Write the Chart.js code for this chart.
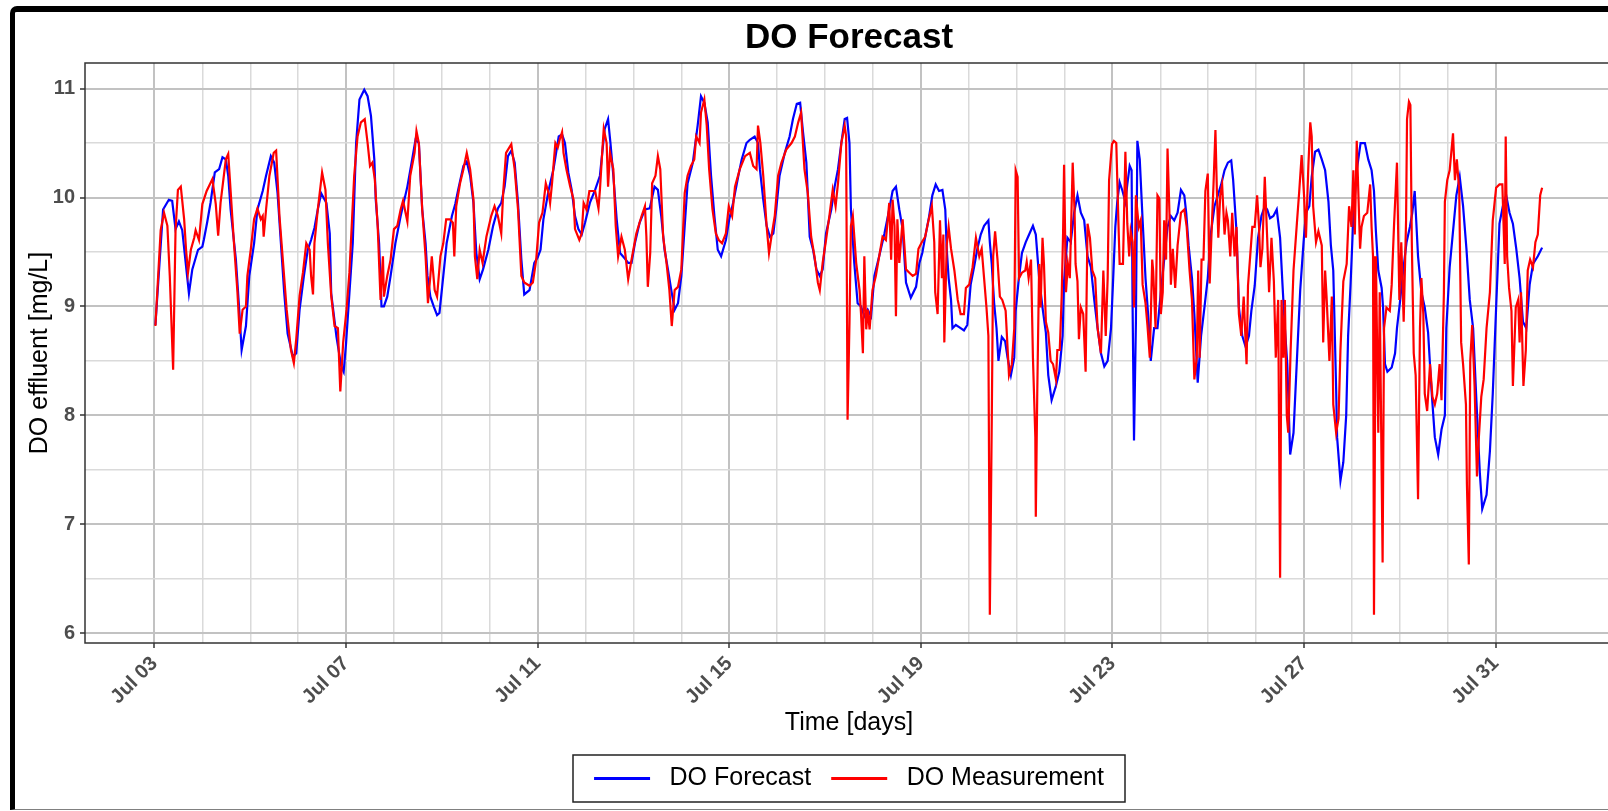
<!DOCTYPE html>
<html>
<head>
<meta charset="utf-8">
<script src="https://cdn.jsdelivr.net/npm/chart.js@4.4.1/dist/chart.umd.min.js"></script>
<style>
html, body { margin: 0; padding: 0; background: #fff; overflow: hidden; width: 1608px; height: 811px; }
#wrap { position: absolute; left: 0; top: 0; width: 1698px; height: 811px; }
#frame { position: absolute; left: 10px; top: 6px; width: 1700px; height: 797px; border-left: 5px solid #000; border-top: 6px solid #000; border-bottom: 1px solid #808080; border-top-left-radius: 7px; pointer-events: none; }
</style>
</head>
<body>
<div id="wrap"><canvas id="lineChart" width="1698" height="811"></canvas></div>
<div id="frame"></div>
<script>
// giorni dal 3 luglio (0 = Jul 03 00:00)
const forecastDay = [0.02,0.18,0.30,0.37,0.44,0.51,0.58,0.72,0.79,0.91,1.00,1.03,1.10,1.17,1.26,1.35,1.42,1.49,1.54,1.59,1.70,1.77,1.82,1.91,1.98,2.08,2.15,2.26,2.33,2.43,2.50,2.57,2.64,2.71,2.78,2.89,2.96,3.03,3.12,3.20,3.27,3.34,3.41,3.48,3.59,3.66,3.69,3.80,3.90,3.95,4.00,4.07,4.14,4.21,4.28,4.38,4.45,4.52,4.59,4.62,4.69,4.74,4.79,4.86,4.93,5.03,5.14,5.28,5.38,5.45,5.52,5.59,5.66,5.70,5.76,5.83,5.90,5.95,6.03,6.10,6.21,6.28,6.34,6.45,6.52,6.59,6.66,6.72,6.79,6.86,6.97,7.07,7.17,7.24,7.31,7.38,7.45,7.52,7.59,7.66,7.72,7.83,7.93,8.00,8.06,8.12,8.23,8.33,8.44,8.51,8.57,8.64,8.71,8.78,8.85,8.92,8.99,9.09,9.20,9.30,9.40,9.47,9.52,9.58,9.65,9.72,9.82,9.89,9.96,10.03,10.13,10.24,10.34,10.44,10.51,10.58,10.65,10.72,10.79,10.86,10.93,11.00,11.07,11.13,11.24,11.34,11.41,11.48,11.55,11.62,11.69,11.76,11.83,11.93,12.00,12.08,12.19,12.26,12.36,12.43,12.53,12.60,12.64,12.71,12.78,12.85,12.92,12.98,13.05,13.16,13.26,13.33,13.41,13.48,13.54,13.61,13.68,13.75,13.82,13.89,13.95,14.02,14.13,14.20,14.27,14.34,14.41,14.46,14.51,14.54,14.61,14.68,14.75,14.82,14.89,14.96,15.03,15.13,15.24,15.34,15.41,15.48,15.55,15.62,15.69,15.79,15.90,15.97,16.03,16.10,16.17,16.24,16.31,16.38,16.45,16.51,16.54,16.58,16.63,16.66,16.73,16.80,16.90,16.97,17.04,17.11,17.18,17.25,17.32,17.41,17.44,17.48,17.53,17.58,17.62,17.69,17.76,17.81,17.88,17.95,17.98,18.04,18.11,18.19,18.26,18.34,18.40,18.47,18.54,18.61,18.66,18.73,18.82,18.89,18.96,18.99,19.06,19.13,19.20,19.27,19.34,19.41,19.48,19.55,19.62,19.69,19.76,19.83,19.90,19.97,20.01,20.06,20.10,20.15,20.21,20.27,20.31,20.36,20.40,20.42,20.45,20.49,20.52,20.57,20.63,20.69,20.76,20.80,20.87,20.94,21.01,21.08,21.15,21.22,21.29,21.36,21.43,21.50,21.54,21.59,21.66,21.71,21.78,21.85,21.92,21.99,22.06,22.13,22.20,22.27,22.34,22.41,22.48,22.52,22.59,22.64,22.71,22.78,22.85,22.90,22.97,23.04,23.11,23.18,23.23,23.29,23.36,23.43,23.50,23.55,23.60,23.65,23.71,23.78,23.85,23.92,23.99,24.04,24.11,24.16,24.23,24.30,24.37,24.44,24.51,24.56,24.61,24.67,24.69,24.76,24.82,24.88,24.92,24.97,25.03,25.10,25.18,25.27,25.34,25.41,25.46,25.50,25.55,25.62,25.65,25.69,25.74,25.83,25.90,25.94,26.00,26.07,26.14,26.21,26.26,26.31,26.38,26.45,26.52,26.59,26.66,26.73,26.80,26.87,26.94,26.97,27.04,27.11,27.18,27.25,27.32,27.39,27.46,27.53,27.60,27.67,27.72,27.81,27.88,27.94,28.01,28.08,28.15,28.22,28.29,28.36,28.43,28.50,28.57,28.64,28.71,28.78,28.88,28.97];
const forecastDO = [8.83,9.89,9.98,9.97,9.71,9.78,9.70,9.12,9.34,9.52,9.55,9.61,9.77,9.95,10.23,10.26,10.37,10.35,10.20,9.89,9.43,8.97,8.60,8.82,9.28,9.58,9.89,10.06,10.20,10.38,10.32,10.04,9.58,9.12,8.75,8.54,8.57,8.97,9.28,9.52,9.61,9.72,9.89,10.04,9.95,9.67,9.12,8.72,8.45,8.40,8.66,9.12,9.58,10.50,10.90,10.99,10.93,10.75,10.35,9.98,9.58,9.00,9.00,9.09,9.28,9.58,9.83,10.10,10.35,10.53,10.50,9.89,9.58,9.28,9.09,9.00,8.92,8.94,9.28,9.58,9.83,9.94,10.07,10.29,10.33,10.20,9.95,9.49,9.25,9.34,9.52,9.74,9.90,9.95,10.10,10.38,10.43,10.32,9.95,9.43,9.11,9.15,9.40,9.45,9.52,9.80,10.07,10.26,10.56,10.58,10.50,10.23,10.07,9.83,9.71,9.66,9.77,9.95,10.07,10.20,10.63,10.72,10.50,10.20,9.80,9.49,9.44,9.40,9.40,9.58,9.77,9.89,9.90,10.10,10.07,9.83,9.52,9.34,9.15,8.97,9.03,9.28,9.74,10.13,10.32,10.66,10.93,10.87,10.69,10.20,9.83,9.52,9.46,9.61,9.80,9.95,10.20,10.35,10.50,10.53,10.56,10.50,10.26,9.98,9.74,9.64,9.67,9.89,10.20,10.41,10.56,10.72,10.86,10.87,10.60,10.32,9.64,9.52,9.34,9.28,9.34,9.67,9.89,10.10,10.26,10.50,10.72,10.73,10.50,9.89,9.40,9.03,9.00,8.91,8.97,8.91,9.28,9.46,9.67,9.89,10.06,10.10,9.89,9.71,9.22,9.08,9.18,9.40,9.49,9.66,9.82,10.02,10.12,10.06,10.07,9.89,9.53,9.26,9.06,8.80,8.83,8.81,8.78,8.83,9.20,9.36,9.53,9.66,9.74,9.79,9.59,9.39,9.03,8.80,8.50,8.72,8.68,8.53,8.37,8.53,8.96,9.23,9.49,9.59,9.66,9.74,9.66,9.26,8.99,8.76,8.37,8.14,8.27,8.40,8.73,9.23,9.63,9.59,9.86,10.02,9.86,9.79,9.46,9.36,9.06,8.80,8.57,8.45,8.50,8.80,9.20,9.73,9.96,10.14,10.06,9.96,10.12,10.29,10.25,9.03,7.77,8.86,10.52,10.35,9.79,9.26,8.83,8.50,8.80,8.80,9.13,9.43,9.73,9.83,9.79,9.86,10.07,10.02,9.86,9.56,9.26,8.93,8.30,8.73,8.99,9.26,9.69,9.92,10.02,10.12,10.25,10.32,10.34,10.16,9.69,8.99,8.73,8.63,8.73,8.96,9.19,9.63,9.83,9.92,9.89,9.81,9.83,9.89,9.63,9.20,8.80,8.47,7.64,7.84,8.50,9.15,9.59,9.86,9.92,10.19,10.42,10.44,10.35,10.25,9.96,9.56,9.33,8.24,7.80,7.40,7.57,8.00,8.73,9.19,9.83,10.25,10.50,10.50,10.35,10.25,10.06,9.69,9.33,9.17,8.99,8.47,8.40,8.44,8.57,8.80,9.03,9.33,9.59,9.73,9.86,10.06,9.46,9.13,8.99,8.76,8.24,7.80,7.64,7.87,8.00,8.80,9.36,9.69,10.02,10.19,9.92,9.53,9.06,8.80,8.12,7.47,7.14,7.27,7.67,8.20,8.99,9.76,9.92,10.02,9.86,9.76,9.53,9.26,8.86,8.80,9.20,9.39,9.46,9.54];

const measureDay = [0.02,0.13,0.20,0.27,0.32,0.39,0.44,0.49,0.55,0.62,0.66,0.70,0.76,0.83,0.86,0.93,1.00,1.09,1.21,1.28,1.33,1.38,1.49,1.54,1.58,1.66,1.73,1.78,1.84,1.91,1.94,2.01,2.08,2.15,2.22,2.26,2.28,2.33,2.40,2.49,2.54,2.61,2.68,2.76,2.85,2.91,2.96,3.03,3.10,3.17,3.24,3.27,3.31,3.34,3.41,3.50,3.57,3.62,3.69,3.76,3.83,3.88,3.94,4.01,4.07,4.17,4.24,4.31,4.39,4.45,4.50,4.55,4.60,4.66,4.69,4.72,4.77,4.79,4.86,4.93,5.00,5.07,5.14,5.19,5.28,5.34,5.43,5.47,5.52,5.59,5.66,5.71,5.76,5.79,5.85,5.90,5.97,6.03,6.09,6.17,6.23,6.26,6.30,6.38,6.45,6.52,6.59,6.66,6.69,6.74,6.79,6.85,6.93,7.03,7.10,7.17,7.24,7.28,7.34,7.45,7.52,7.59,7.66,7.72,7.83,7.90,7.97,8.03,8.10,8.17,8.23,8.26,8.30,8.37,8.42,8.46,8.51,8.54,8.60,8.68,8.75,8.78,8.87,8.92,8.96,9.02,9.08,9.20,9.27,9.30,9.36,9.38,9.44,9.47,9.51,9.58,9.63,9.68,9.75,9.82,9.89,9.96,10.06,10.17,10.24,10.27,10.30,10.35,10.39,10.46,10.51,10.56,10.62,10.69,10.75,10.80,10.86,10.93,11.00,11.07,11.13,11.20,11.27,11.31,11.38,11.41,11.48,11.53,11.58,11.65,11.72,11.78,11.85,11.93,11.99,12.06,12.12,12.22,12.33,12.43,12.50,12.57,12.60,12.65,12.71,12.78,12.83,12.88,12.95,13.02,13.09,13.19,13.30,13.37,13.44,13.50,13.57,13.64,13.71,13.78,13.85,13.89,13.95,14.02,14.09,14.16,14.22,14.27,14.34,14.41,14.44,14.47,14.51,14.54,14.58,14.65,14.72,14.75,14.79,14.82,14.86,14.89,14.93,14.99,15.06,15.13,15.20,15.27,15.34,15.38,15.41,15.45,15.48,15.51,15.55,15.62,15.69,15.76,15.83,15.90,15.95,16.02,16.09,16.16,16.23,16.28,16.30,16.35,16.40,16.44,16.47,16.49,16.54,16.58,16.63,16.70,16.77,16.83,16.90,16.94,17.01,17.08,17.15,17.22,17.27,17.32,17.37,17.41,17.44,17.48,17.51,17.55,17.60,17.65,17.70,17.77,17.84,17.90,17.95,17.98,18.02,18.05,18.11,18.18,18.21,18.25,18.30,18.34,18.39,18.40,18.43,18.47,18.50,18.54,18.57,18.61,18.66,18.71,18.76,18.82,18.85,18.90,18.94,18.97,18.99,19.03,19.07,19.11,19.17,19.21,19.23,19.27,19.30,19.34,19.39,19.44,19.48,19.53,19.58,19.64,19.69,19.76,19.81,19.86,19.90,19.93,19.99,20.03,20.08,20.13,20.15,20.22,20.27,20.31,20.35,20.38,20.42,20.45,20.49,20.55,20.59,20.63,20.69,20.73,20.78,20.83,20.85,20.90,20.94,20.98,21.01,21.05,21.08,21.12,21.15,21.19,21.22,21.26,21.31,21.36,21.43,21.50,21.55,21.61,21.66,21.71,21.76,21.79,21.82,21.86,21.90,21.94,21.99,22.03,22.07,22.11,22.15,22.18,22.21,22.25,22.29,22.34,22.38,22.41,22.46,22.50,22.55,22.59,22.64,22.69,22.74,22.80,22.83,22.88,22.92,22.97,23.02,23.06,23.09,23.13,23.18,23.23,23.27,23.32,23.37,23.41,23.46,23.50,23.53,23.57,23.60,23.64,23.67,23.72,23.78,23.85,23.90,23.95,24.00,24.04,24.09,24.13,24.16,24.19,24.25,24.30,24.37,24.40,24.44,24.47,24.53,24.58,24.61,24.67,24.72,24.76,24.82,24.89,24.94,24.99,25.03,25.06,25.10,25.17,25.20,25.25,25.32,25.38,25.41,25.44,25.46,25.50,25.55,25.58,25.64,25.67,25.72,25.79,25.83,25.88,25.94,25.99,26.03,26.08,26.13,26.15,26.19,26.22,26.25,26.29,26.33,26.38,26.42,26.45,26.49,26.52,26.57,26.63,26.68,26.73,26.78,26.83,26.87,26.92,26.94,26.99,27.04,27.11,27.15,27.19,27.24,27.28,27.32,27.38,27.40,27.44,27.47,27.51,27.56,27.61,27.65,27.70,27.75,27.81,27.88,27.94,28.01,28.08,28.14,28.19,28.21,28.24,28.28,28.33,28.36,28.42,28.47,28.50,28.53,28.58,28.63,28.67,28.72,28.78,28.83,28.88,28.93,28.97];
const measureDO = [8.82,9.70,9.86,9.74,9.28,8.42,9.70,10.07,10.10,9.80,9.52,9.31,9.52,9.63,9.70,9.61,9.94,10.06,10.17,9.94,9.65,9.95,10.35,10.40,10.13,9.58,9.15,8.75,8.97,9.00,9.28,9.52,9.80,9.90,9.80,9.83,9.64,9.89,10.20,10.41,10.43,9.83,9.43,8.97,8.60,8.48,8.70,9.10,9.31,9.58,9.52,9.28,9.11,9.58,9.89,10.23,10.07,9.58,9.10,8.82,8.80,8.22,8.67,8.97,9.31,10.20,10.56,10.69,10.72,10.50,10.29,10.32,10.17,9.74,9.40,9.06,9.46,9.09,9.28,9.43,9.71,9.74,9.89,9.97,9.78,10.20,10.41,10.61,10.50,9.89,9.46,9.03,9.28,9.46,9.15,9.09,9.46,9.58,9.80,9.80,9.77,9.46,9.92,10.13,10.26,10.41,10.26,9.98,9.46,9.25,9.52,9.40,9.64,9.83,9.92,9.83,9.67,10.04,10.41,10.49,10.26,9.89,9.28,9.22,9.19,9.22,9.43,9.77,9.86,10.13,10.04,9.95,10.13,10.50,10.46,10.53,10.60,10.41,10.26,10.10,9.98,9.71,9.61,9.67,9.95,9.89,10.06,10.06,9.90,10.07,10.50,10.63,10.50,10.10,10.41,10.26,9.74,9.46,9.64,9.52,9.25,9.43,9.67,9.83,9.92,9.64,9.18,9.49,10.13,10.20,10.38,10.26,9.64,9.40,9.15,8.82,9.15,9.18,9.34,10.04,10.20,10.29,10.35,10.56,10.50,10.78,10.90,10.66,10.26,9.89,9.67,9.61,9.58,9.67,9.92,9.83,10.10,10.26,10.38,10.41,10.29,10.26,10.66,10.50,10.20,9.74,9.49,9.64,9.83,10.20,10.32,10.44,10.50,10.56,10.69,10.78,10.26,10.04,9.64,9.46,9.22,9.15,9.40,9.61,9.83,10.07,9.92,10.13,10.50,10.66,10.56,7.96,8.85,9.74,9.83,9.40,9.15,8.94,8.57,9.46,8.79,8.97,8.79,9.15,9.28,9.46,9.64,9.61,9.95,9.43,9.98,9.74,8.91,9.80,9.40,9.80,9.34,9.31,9.28,9.30,9.53,9.59,9.64,9.79,9.92,9.59,9.13,8.93,9.79,9.26,9.66,8.67,9.56,9.73,9.53,9.33,9.06,8.93,8.93,9.17,9.20,9.36,9.63,9.46,9.53,9.26,8.99,8.73,6.17,7.93,9.46,9.69,9.43,9.09,9.06,8.96,8.37,8.47,8.80,10.25,10.19,9.26,9.31,9.33,9.41,9.26,9.43,8.53,7.80,7.07,8.20,9.39,8.99,9.63,9.39,8.86,8.76,8.50,8.47,8.33,8.60,8.60,9.09,9.69,10.30,9.13,9.39,9.26,10.32,9.86,9.39,9.23,8.70,8.99,8.93,8.40,9.76,9.63,9.33,9.26,8.80,8.57,9.33,8.73,9.26,10.16,10.49,10.52,10.50,9.69,9.39,9.39,10.42,9.76,9.46,9.69,9.59,8.99,10.02,9.73,9.79,9.20,9.03,8.83,8.53,9.43,9.33,8.80,10.02,9.99,8.93,9.13,9.79,9.43,10.45,9.86,9.20,9.53,9.17,9.56,9.86,9.89,9.73,9.33,9.06,8.33,8.53,9.33,8.53,9.43,9.43,10.06,10.22,9.21,9.69,10.12,10.62,10.06,9.63,10.02,10.12,9.66,9.86,9.79,9.46,9.86,9.46,9.73,8.93,8.73,9.09,8.47,9.19,9.49,9.73,9.73,10.02,9.73,9.36,9.53,10.19,9.63,9.13,9.63,9.23,8.53,9.06,6.51,9.06,8.53,9.06,8.00,7.84,8.60,9.33,9.76,10.06,10.39,10.02,9.63,10.29,10.69,10.56,9.92,9.59,9.69,9.56,8.67,9.33,9.09,8.50,9.09,8.10,7.84,7.97,8.60,9.23,9.39,9.92,9.73,10.25,9.66,10.52,9.53,9.73,9.83,9.86,10.12,9.73,9.46,6.17,9.46,7.84,9.13,6.65,8.80,8.99,8.96,9.20,9.76,10.32,9.06,9.59,8.86,9.79,10.72,10.88,10.85,9.59,8.57,8.37,7.23,8.80,9.26,8.93,8.20,8.04,8.47,8.17,8.10,8.20,8.47,8.14,9.13,9.96,10.16,10.25,10.59,10.16,10.35,10.06,8.67,8.47,8.10,7.37,6.63,8.50,8.83,8.27,7.44,7.80,8.17,8.33,8.80,9.13,9.79,10.09,10.12,10.12,9.39,10.56,9.46,9.17,8.96,8.27,8.99,9.06,8.67,9.13,8.27,8.60,9.33,9.43,9.36,9.59,9.66,10.02,10.09];

// assi: giorni con etichetta, giorni con sola griglia, valori DO
const dateTickDays = [0, 4, 8, 12, 16, 20, 24, 28];
const dateTickLabels = ['Jul 03', 'Jul 07', 'Jul 11', 'Jul 15', 'Jul 19', 'Jul 23', 'Jul 27', 'Jul 31'];
const minorDays = [1, 2, 3, 5, 6, 7, 9, 10, 11, 13, 14, 15, 17, 18, 19, 21, 22, 23, 25, 26, 27];
const doMajor = [6, 7, 8, 9, 10, 11];
const doMinor = [6.5, 7.5, 8.5, 9.5, 10.5];

const FONT = "'Liberation Sans', Arial, sans-serif";
const MAJOR_GRID = '#c2c2c2';
const MINOR_GRID = '#dadada';

const panelFrame = {
    id: 'panelFrame',
    afterDraw(chart) {
        const a = chart.chartArea;
        const ctx = chart.ctx;
        ctx.save();
        ctx.strokeStyle = '#333333';
        ctx.lineWidth = 1.5;
        ctx.strokeRect(a.left, a.top, a.right - a.left, a.bottom - a.top);
        ctx.restore();
    }
};

const legendFrame = {
    id: 'legendFrame',
    afterDraw(chart) {
        const boxes = chart.legend.legendHitBoxes;
        if (!boxes || !boxes.length) return;
        const first = boxes[0];
        const last = boxes[boxes.length - 1];
        const cy = first.top + first.height / 2;
        const x0 = Math.round(first.left - 21);
        const x1 = Math.round(last.left + last.width + 21);
        const ctx = chart.ctx;
        ctx.save();
        ctx.strokeStyle = '#222222';
        ctx.lineWidth = 1.5;
        ctx.strokeRect(x0, Math.round(cy - 24), x1 - x0, 47);
        ctx.restore();
    }
};

function isMajorDay(v) { return dateTickDays.includes(v); }
function isMajorDO(v) { return doMajor.includes(v); }

const ctx = document.getElementById('lineChart').getContext('2d');
const myChart = new Chart(ctx, {
    type: 'line',
    data: {
        datasets: [{
            label: 'DO Forecast',
            data: forecastDay.map((d, i) => ({ x: d, y: forecastDO[i] })),
            borderColor: '#0000ff',
            backgroundColor: '#0000ff',
            borderWidth: 2.2,
            pointRadius: 0,
            tension: 0,
            fill: false,
            order: 1
        }, {
            label: 'DO Measurement',
            data: measureDay.map((d, i) => ({ x: d, y: measureDO[i] })),
            borderColor: '#ff0000',
            backgroundColor: '#ff0000',
            borderWidth: 2.2,
            pointRadius: 0,
            tension: 0,
            fill: false,
            order: 0
        }]
    },
    options: {
        responsive: false,
        animation: false,
        layout: { padding: { left: 0, right: 0, top: 0, bottom: 10 } },
        plugins: {
            tooltip: { enabled: false },
            title: {
                display: true,
                text: 'DO Forecast',
                color: '#000000',
                font: { family: FONT, size: 35, weight: 'bold' },
                padding: { top: 17, bottom: 4 }
            },
            legend: {
                position: 'bottom',
                labels: {
                    color: '#000000',
                    font: { family: FONT, size: 25 },
                    usePointStyle: true,
                    pointStyle: 'line',
                    pointStyleWidth: 56,
                    padding: 20,
                    sort: (a, b) => a.datasetIndex - b.datasetIndex,
                    generateLabels: c => Chart.defaults.plugins.legend.labels.generateLabels(c)
                        .map(l => Object.assign(l, { text: '\u00a0' + l.text, lineWidth: 3, pointStyle: 'line' }))
                }
            }
        },
        scales: {
            x: {
                type: 'linear',
                min: -1.45,
                max: 30.45,
                afterBuildTicks: s => {
                    s.ticks = dateTickDays.concat(minorDays).sort((a, b) => a - b).map(v => ({ value: v }));
                },
                afterFit: s => { s.height = 103; },
                border: { display: false },
                grid: {
                    color: c => isMajorDay(c.tick.value) ? MAJOR_GRID : MINOR_GRID,
                    lineWidth: c => isMajorDay(c.tick.value) ? 2 : 1.5,
                    tickColor: c => isMajorDay(c.tick.value) ? '#333333' : 'rgba(0,0,0,0)',
                    tickWidth: 1.5,
                    tickLength: 5
                },
                ticks: {
                    autoSkip: false,
                    minRotation: 45,
                    maxRotation: 45,
                    padding: 4,
                    color: '#4d4d4d',
                    font: { family: FONT, size: 20, weight: 'bold' },
                    callback: v => {
                        const k = dateTickDays.indexOf(v);
                        return k >= 0 ? dateTickLabels[k] : '';
                    }
                },
                title: {
                    display: true,
                    text: 'Time [days]',
                    color: '#000000',
                    font: { family: FONT, size: 25 },
                    padding: { top: 0, bottom: 8 }
                }
            },
            y: {
                min: 5.91,
                max: 11.235,
                afterBuildTicks: s => {
                    s.ticks = doMajor.concat(doMinor).sort((a, b) => a - b).map(v => ({ value: v }));
                },
                afterFit: s => { s.width = 85; },
                border: { display: false },
                grid: {
                    color: c => isMajorDO(c.tick.value) ? MAJOR_GRID : MINOR_GRID,
                    lineWidth: c => isMajorDO(c.tick.value) ? 2 : 1.5,
                    tickColor: c => isMajorDO(c.tick.value) ? '#333333' : 'rgba(0,0,0,0)',
                    tickWidth: 1.5,
                    tickLength: 5
                },
                ticks: {
                    padding: 5,
                    color: '#4d4d4d',
                    font: { family: FONT, size: 20, weight: 'bold' },
                    callback: v => isMajorDO(v) ? String(v) : ''
                },
                title: {
                    display: true,
                    text: 'DO effluent [mg/L]',
                    color: '#000000',
                    font: { family: FONT, size: 25 },
                    padding: { top: 25, bottom: 0 }
                }
            },
            // margine destro vuoto, come quello del pannello a sinistra
            yRight: {
                position: 'right',
                min: 5.91,
                max: 11.235,
                afterFit: s => { s.width = 85; },
                border: { display: false },
                grid: { display: false, drawOnChartArea: false },
                ticks: { display: false }
            }
        }
    },
    plugins: [panelFrame, legendFrame]
});
</script>
</body>
</html>
